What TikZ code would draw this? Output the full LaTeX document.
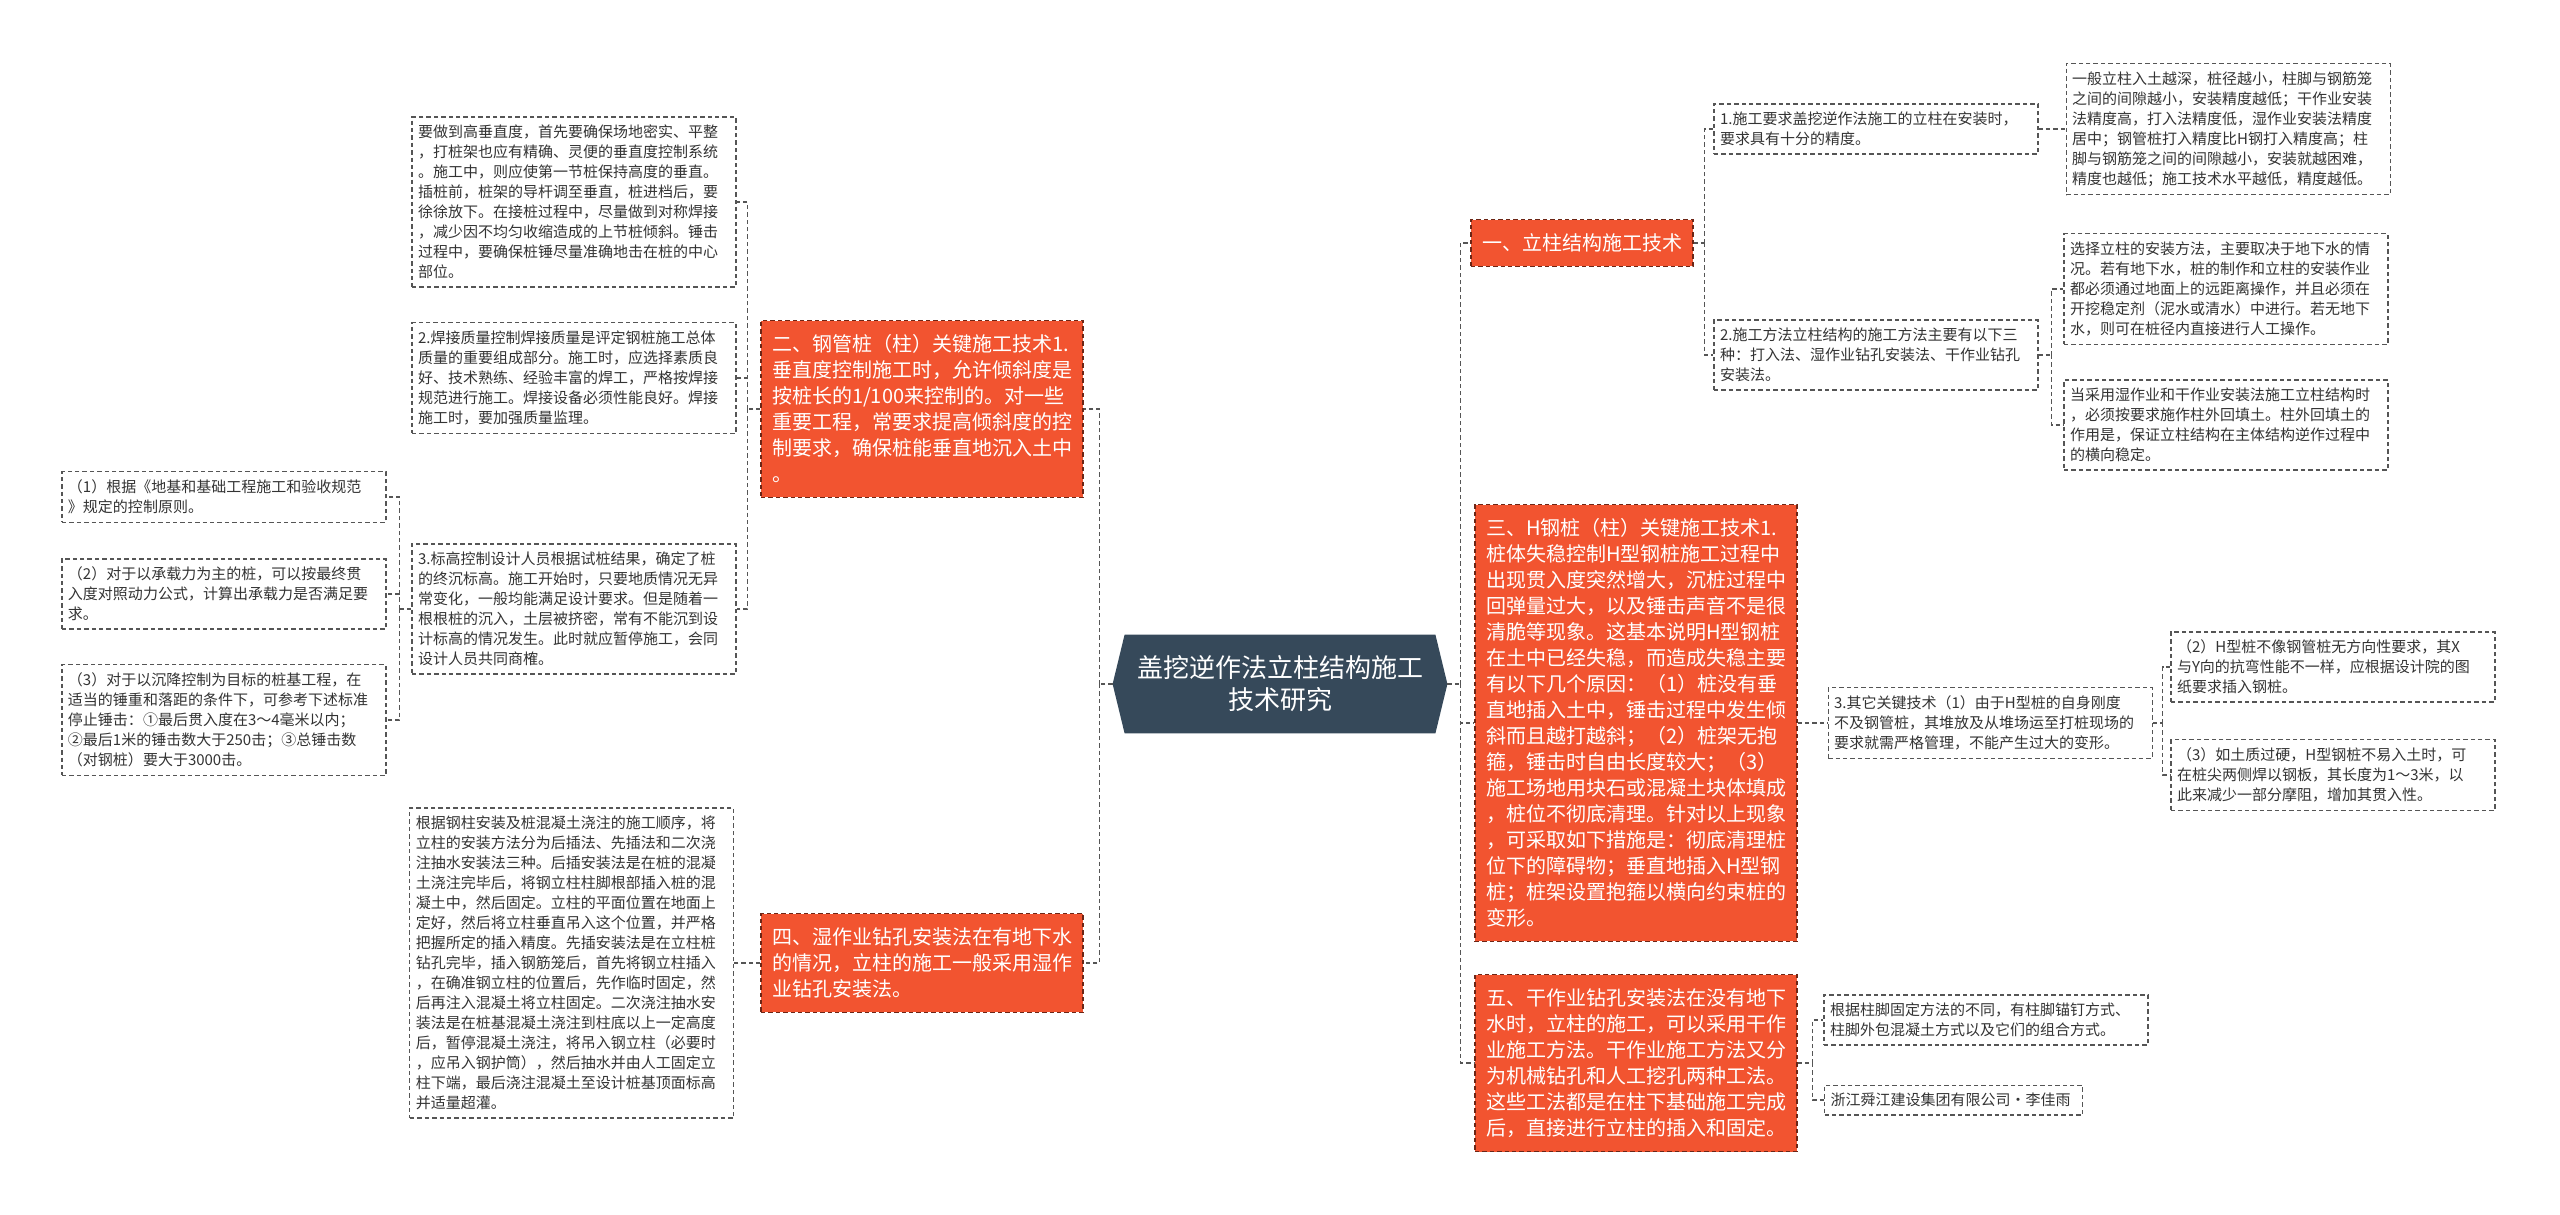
\documentclass[tikz,border=0pt]{standalone}
\usepackage{fontspec}
\setmainfont{Noto Sans CJK SC}
\usetikzlibrary{positioning,backgrounds}
\definecolor{hong}{HTML}{F25430}
\definecolor{zhu}{HTML}{36495A}
\definecolor{xian}{HTML}{555555}

\begin{document}
\begin{tikzpicture}[x=0.5pt, y=-0.5pt,
  txt/.style={draw=xian, dash pattern=on 2.2pt off 1.5pt, line width=0.55pt, text=black!80,
    font=\fontsize{7.5pt}{10pt}\selectfont, align=left, text width=156pt, inner xsep=3pt, inner ysep=4pt},
  fen/.style={fill=hong, draw=black!55!hong, dash pattern=on 2.2pt off 1.5pt, line width=0.55pt, text=white,
    font=\fontsize{10pt}{13pt}\selectfont, align=left, text width=150pt, inner xsep=5.5pt, inner ysep=7pt},
  link/.style={draw=xian, dash pattern=on 2.2pt off 1.5pt, line width=0.55pt}]

\useasboundingbox (0,0) rectangle (2560,1215);

%glavni cvor
\node (root) at (1280,684) [text=white, align=center, minimum width=155pt, minimum height=49pt,
  font=\fontsize{13pt}{16pt}\selectfont] {盖挖逆作法立柱结构施工\\技术研究};
\begin{scope}[on background layer]
  \fill[zhu] (root.north west) -- (root.north east) -- ([xshift=6pt]root.east) -- (root.south east)
    -- (root.south west) -- ([xshift=-6pt]root.west) -- cycle;
\end{scope}

%lijeva strana
\node (red2) at (922,409) [fen] {二、钢管桩（柱）关键施工技术1.\\
垂直度控制施工时，允许倾斜度是\\
按桩长的1/100来控制的。对一些\\
重要工程，常要求提高倾斜度的控\\
制要求，确保桩能垂直地沉入土中\\
。};
\node (red4) at (922,963) [fen] {四、湿作业钻孔安装法在有地下水\\
的情况，立柱的施工一般采用湿作\\
业钻孔安装法。};

\node (L1) at (574,202) [txt] {要做到高垂直度，首先要确保场地密实、平整\\
，打桩架也应有精确、灵便的垂直度控制系统\\
。施工中，则应使第一节桩保持高度的垂直。\\
插桩前，桩架的导杆调至垂直，桩进档后，要\\
徐徐放下。在接桩过程中，尽量做到对称焊接\\
，减少因不均匀收缩造成的上节桩倾斜。锤击\\
过程中，要确保桩锤尽量准确地击在桩的中心\\
部位。};
\node (L2) at (574,378) [txt] {2.焊接质量控制焊接质量是评定钢桩施工总体\\
质量的重要组成部分。施工时，应选择素质良\\
好、技术熟练、经验丰富的焊工，严格按焊接\\
规范进行施工。焊接设备必须性能良好。焊接\\
施工时，要加强质量监理。};
\node (L3) at (574,609) [txt] {3.标高控制设计人员根据试桩结果，确定了桩\\
的终沉标高。施工开始时，只要地质情况无异\\
常变化，一般均能满足设计要求。但是随着一\\
根根桩的沉入，土层被挤密，常有不能沉到设\\
计标高的情况发生。此时就应暂停施工，会同\\
设计人员共同商榷。};
\node (L4) [txt, left=13pt of red4] {根据钢柱安装及桩混凝土浇注的施工顺序，将\\
立柱的安装方法分为后插法、先插法和二次浇\\
注抽水安装法三种。后插安装法是在桩的混凝\\
土浇注完毕后，将钢立柱柱脚根部插入桩的混\\
凝土中，然后固定。立柱的平面位置在地面上\\
定好，然后将立柱垂直吊入这个位置，并严格\\
把握所定的插入精度。先插安装法是在立柱桩\\
钻孔完毕，插入钢筋笼后，首先将钢立柱插入\\
，在确准钢立柱的位置后，先作临时固定，然\\
后再注入混凝土将立柱固定。二次浇注抽水安\\
装法是在桩基混凝土浇注到柱底以上一定高度\\
后，暂停混凝土浇注，将吊入钢立柱（必要时\\
，应吊入钢护筒），然后抽水并由人工固定立\\
柱下端，最后浇注混凝土至设计桩基顶面标高\\
并适量超灌。};

\node (F1) at (224,497) [txt] {（1）根据《地基和基础工程施工和验收规范\\
》规定的控制原则。};
\node (F2) at (224,594) [txt] {（2）对于以承载力为主的桩，可以按最终贯\\
入度对照动力公式，计算出承载力是否满足要\\
求。};
\node (F3) at (224,720) [txt] {（3）对于以沉降控制为目标的桩基工程，在\\
适当的锤重和落距的条件下，可参考下述标准\\
停止锤击：①最后贯入度在3～4毫米以内；\\
②最后1米的锤击数大于250击；③总锤击数\\
（对钢桩）要大于3000击。};

%desna strana
\node (red1) at (1582,243) [fen, text width=100pt] {一、立柱结构施工技术};
\node (red3) at (1636,723) [fen] {三、H钢桩（柱）关键施工技术1.\\
桩体失稳控制H型钢桩施工过程中\\
出现贯入度突然增大，沉桩过程中\\
回弹量过大，以及锤击声音不是很\\
清脆等现象。这基本说明H型钢桩\\
在土中已经失稳，而造成失稳主要\\
有以下几个原因：（1）桩没有垂\\
直地插入土中，锤击过程中发生倾\\
斜而且越打越斜；（2）桩架无抱\\
箍，锤击时自由长度较大；（3）\\
施工场地用块石或混凝土块体填成\\
，桩位不彻底清理。针对以上现象\\
，可采取如下措施是：彻底清理桩\\
位下的障碍物；垂直地插入H型钢\\
桩；桩架设置抱箍以横向约束桩的\\
变形。};
\node (red5) at (1636,1063) [fen] {五、干作业钻孔安装法在没有地下\\
水时，立柱的施工，可以采用干作\\
业施工方法。干作业施工方法又分\\
为机械钻孔和人工挖孔两种工法。\\
这些工法都是在柱下基础施工完成\\
后，直接进行立柱的插入和固定。};

\node (R1a) at (1876,129) [txt] {1.施工要求盖挖逆作法施工的立柱在安装时，\\
要求具有十分的精度。};
\node (R1b) at (1876,355) [txt] {2.施工方法立柱结构的施工方法主要有以下三\\
种：打入法、湿作业钻孔安装法、干作业钻孔\\
安装法。};
\node (R2a) [txt, right=13.5pt of R1a] {一般立柱入土越深，桩径越小，柱脚与钢筋笼\\
之间的间隙越小，安装精度越低；干作业安装\\
法精度高，打入法精度低，湿作业安装法精度\\
居中；钢管桩打入精度比H钢打入精度高；柱\\
脚与钢筋笼之间的间隙越小，安装就越困难，\\
精度也越低；施工技术水平越低，精度越低。};
\node (R2b) at (2226,289) [txt] {选择立柱的安装方法，主要取决于地下水的情\\
况。若有地下水，桩的制作和立柱的安装作业\\
都必须通过地面上的远距离操作，并且必须在\\
开挖稳定剂（泥水或清水）中进行。若无地下\\
水，则可在桩径内直接进行人工操作。};
\node (R2c) at (2226,425) [txt] {当采用湿作业和干作业安装法施工立柱结构时\\
，必须按要求施作柱外回填土。柱外回填土的\\
作用是，保证立柱结构在主体结构逆作过程中\\
的横向稳定。};

\node (R3a) [txt, right=15pt of red3] {3.其它关键技术（1）由于H型桩的自身刚度\\
不及钢管桩，其堆放及从堆场运至打桩现场的\\
要求就需严格管理，不能产生过大的变形。};
\node (R3b) at (2333,667) [txt] {（2）H型桩不像钢管桩无方向性要求，其X\\
与Y向的抗弯性能不一样，应根据设计院的图\\
纸要求插入钢桩。};
\node (R3c) at (2333,775) [txt] {（3）如土质过硬，H型钢桩不易入土时，可\\
在桩尖两侧焊以钢板，其长度为1～3米，以\\
此来减少一部分摩阻，增加其贯入性。};

\node (R5a) at (1986,1020) [txt] {根据柱脚固定方法的不同，有柱脚锚钉方式、\\
柱脚外包混凝土方式以及它们的组合方式。};
\node (R5b) at (1824,1100) [txt, text width=123pt, anchor=west] {浙江舜江建设集团有限公司·李佳雨};

%veze od glavnog cvora
\draw[link] ([xshift=-6pt]root.west) -- ++(-13,0) coordinate (zl);
\draw[link] ([xshift=6pt]root.east) -- ++(13,0) coordinate (zr);
\foreach \n in {red2,red4} \draw[link] (zl) |- (\n.east);
\foreach \n in {red1,red3,red5} \draw[link] (zr) |- (\n.west);

%veze lijevo
\draw[link] (red2.west) -- ++(-13,0) coordinate (z2);
\foreach \n in {L1,L2,L3} \draw[link] (z2) |- (\n.east);
\draw[link] (red4.west) -- (L4.east);
\draw[link] (L3.west) -- ++(-12,0) coordinate (z3);
\foreach \n in {F1,F2,F3} \draw[link] (z3) |- (\n.east);

%veze desno
\draw[link] (red1.east) -- ++(11,0) coordinate (z1);
\foreach \n in {R1a,R1b} \draw[link] (z1) |- (\n.west);
\draw[link] (R1a.east) -- (R2a.west);
\draw[link] (R1b.east) -- ++(13,0) coordinate (z4);
\foreach \n in {R2b,R2c} \draw[link] (z4) |- (\n.west);
\draw[link] (red3.east) -- (R3a.west);
\draw[link] (R3a.east) -- ++(10,0) coordinate (z6);
\foreach \n in {R3b,R3c} \draw[link] (z6) |- (\n.west);
\draw[link] (red5.east) -- ++(15,0) coordinate (z5);
\foreach \n in {R5a,R5b} \draw[link] (z5) |- (\n.west);

\end{tikzpicture}
\end{document}
